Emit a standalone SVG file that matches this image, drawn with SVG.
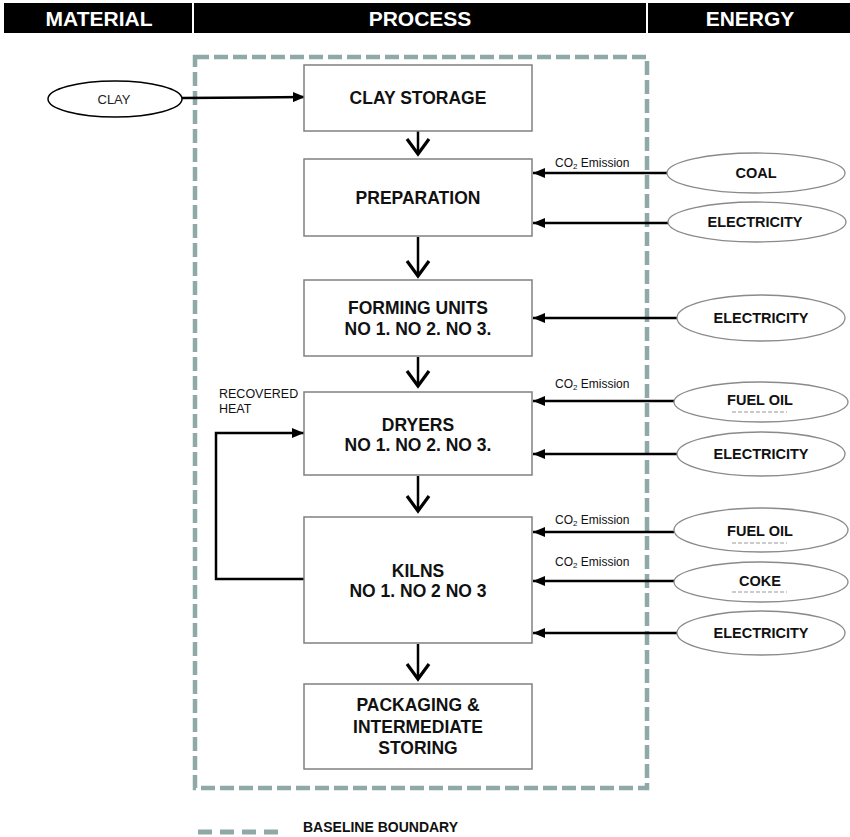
<svg xmlns="http://www.w3.org/2000/svg" width="850" height="837" viewBox="0 0 850 837">
<style>
.hdr{font-family:"Liberation Sans",Arial,sans-serif;font-weight:bold;font-size:21px;fill:#fff;text-anchor:middle}
.box{fill:#fff;stroke:#808080;stroke-width:1.5}
.bt{font-family:"Liberation Sans",Arial,sans-serif;font-weight:bold;font-size:17.5px;fill:#111;text-anchor:middle}
.en{fill:#fff;stroke:#8a8a8a;stroke-width:1.3}
.et{font-family:"Liberation Sans",Arial,sans-serif;font-weight:bold;font-size:14.5px;fill:#111;text-anchor:middle}
.co{font-family:"Liberation Sans",Arial,sans-serif;font-size:12px;fill:#111}
.rh{font-family:"Liberation Sans",Arial,sans-serif;font-size:12.5px;fill:#111}
.ln{fill:none;stroke:#000;stroke-width:2.5}
.va{fill:none;stroke:#000;stroke-width:3.2}
.bd{fill:none;stroke:#8fa8a8;stroke-width:4.5;stroke-dasharray:14 5}
.ul{stroke:#999;stroke-width:1;stroke-dasharray:4 2}
</style>
<defs>
<marker id="ah" viewBox="0 0 12 10" refX="12" refY="5" markerWidth="12" markerHeight="10" markerUnits="userSpaceOnUse" orient="auto">
<path d="M0,0 L12,5 L0,10 Z" fill="#000"/>
</marker>
</defs>
<rect width="850" height="837" fill="#fff"/>
<g id="header">
<rect x="4" y="3" width="846" height="30" fill="#000"/>
<line x1="193" y1="3" x2="193" y2="33" stroke="#fff" stroke-width="2"/>
<line x1="647" y1="3" x2="647" y2="33" stroke="#fff" stroke-width="2"/>
<text class="hdr" x="99" y="26">MATERIAL</text>
<text class="hdr" x="420" y="26">PROCESS</text>
<text class="hdr" x="750" y="26">ENERGY</text>
</g>
<g id="boundary">
<rect class="bd" x="195" y="57" width="452" height="731"/>
</g>
<g id="connectors">
<line class="ln" x1="182" y1="98" x2="305" y2="97" marker-end="url(#ah)"/>
<line class="ln" x1="418" y1="131" x2="418" y2="154"/>
<polyline class="va" points="407,139 418,154 429,139"/>
<line class="ln" x1="418" y1="237" x2="418" y2="276"/>
<polyline class="va" points="407,261 418,276 429,261"/>
<line class="ln" x1="418" y1="357" x2="418" y2="386"/>
<polyline class="va" points="407,371 418,386 429,371"/>
<line class="ln" x1="418" y1="476" x2="418" y2="511"/>
<polyline class="va" points="407,496 418,511 429,496"/>
<line class="ln" x1="418" y1="644" x2="418" y2="679"/>
<polyline class="va" points="407,664 418,679 429,664"/>
<line class="ln" x1="667" y1="173" x2="533" y2="173" marker-end="url(#ah)"/>
<line class="ln" x1="668" y1="223" x2="533" y2="223" marker-end="url(#ah)"/>
<line class="ln" x1="677" y1="318" x2="533" y2="318" marker-end="url(#ah)"/>
<line class="ln" x1="674" y1="401" x2="533" y2="401" marker-end="url(#ah)"/>
<line class="ln" x1="677" y1="454" x2="533" y2="454" marker-end="url(#ah)"/>
<line class="ln" x1="674" y1="532" x2="533" y2="532" marker-end="url(#ah)"/>
<line class="ln" x1="674" y1="581" x2="533" y2="581" marker-end="url(#ah)"/>
<line class="ln" x1="677" y1="633" x2="533" y2="633" marker-end="url(#ah)"/>
<polyline class="ln" points="304,579 216,579 216,433 304,433" marker-end="url(#ah)"/>
<text class="co" x="555" y="167">CO<tspan font-size="8" dy="2">2</tspan><tspan dy="-2"> Emission</tspan></text>
<text class="co" x="555" y="388">CO<tspan font-size="8" dy="2">2</tspan><tspan dy="-2"> Emission</tspan></text>
<text class="co" x="555" y="524">CO<tspan font-size="8" dy="2">2</tspan><tspan dy="-2"> Emission</tspan></text>
<text class="co" x="555" y="566">CO<tspan font-size="8" dy="2">2</tspan><tspan dy="-2"> Emission</tspan></text>
<text class="rh" x="219" y="398">RECOVERED</text>
<text class="rh" x="219" y="413">HEAT</text>
</g>
<g id="clay">
<ellipse cx="115" cy="99" rx="67" ry="18" fill="#fff" stroke="#000" stroke-width="1.5"/>
<text x="114" y="104" font-family="Liberation Sans,Arial,sans-serif" font-size="13" text-anchor="middle" fill="#222">CLAY</text>
</g>
<g id="clay-storage">
<rect class="box" x="304" y="65" width="228" height="66"/>
<text class="bt" x="418" y="104">CLAY STORAGE</text>
</g>
<g id="preparation">
<rect class="box" x="304" y="159" width="228" height="77"/>
<text class="bt" x="418" y="204">PREPARATION</text>
</g>
<g id="forming">
<rect class="box" x="304" y="280" width="228" height="76"/>
<text class="bt" x="418" y="314">FORMING UNITS</text>
<text class="bt" x="418" y="335">NO 1. NO 2. NO 3.</text>
</g>
<g id="dryers">
<rect class="box" x="304" y="392" width="228" height="83"/>
<text class="bt" x="418" y="431">DRYERS</text>
<text class="bt" x="418" y="451">NO 1. NO 2. NO 3.</text>
</g>
<g id="kilns">
<rect class="box" x="304" y="517" width="228" height="126"/>
<text class="bt" x="418" y="577">KILNS</text>
<text class="bt" x="418" y="597">NO 1. NO 2 NO 3</text>
</g>
<g id="packaging">
<rect class="box" x="304" y="684" width="228" height="85"/>
<text class="bt" x="418" y="711">PACKAGING &amp;</text>
<text class="bt" x="418" y="733">INTERMEDIATE</text>
<text class="bt" x="418" y="754">STORING</text>
</g>
<g id="coal">
<ellipse class="en" cx="756" cy="173" rx="89" ry="20"/>
<text class="et" x="756" y="178">COAL</text>
</g>
<g id="electricity-1">
<ellipse class="en" cx="757" cy="222" rx="89" ry="20"/>
<text class="et" x="755" y="227">ELECTRICITY</text>
</g>
<g id="electricity-2">
<ellipse class="en" cx="761" cy="318" rx="84" ry="23"/>
<text class="et" x="761" y="323">ELECTRICITY</text>
</g>
<g id="fuel-oil-1">
<ellipse class="en" cx="761" cy="402" rx="87" ry="20"/>
<text class="et" x="760" y="405">FUEL OIL</text>
<line class="ul" x1="732" y1="412" x2="787" y2="412"/>
</g>
<g id="electricity-3">
<ellipse class="en" cx="761" cy="454" rx="84" ry="22"/>
<text class="et" x="761" y="459">ELECTRICITY</text>
</g>
<g id="fuel-oil-2">
<ellipse class="en" cx="761" cy="530" rx="87" ry="22"/>
<text class="et" x="760" y="536">FUEL OIL</text>
<line class="ul" x1="732" y1="543" x2="787" y2="543"/>
</g>
<g id="coke">
<ellipse class="en" cx="761" cy="582" rx="87" ry="20"/>
<text class="et" x="760" y="586">COKE</text>
<line class="ul" x1="732" y1="592" x2="787" y2="592"/>
</g>
<g id="electricity-4">
<ellipse class="en" cx="761" cy="633" rx="84" ry="22"/>
<text class="et" x="761" y="638">ELECTRICITY</text>
</g>
<g id="legend">
<line x1="198" y1="832" x2="280" y2="832" stroke="#8fa8a8" stroke-width="5" stroke-dasharray="14 8"/>
<text x="303" y="832" font-family="Liberation Sans,Arial,sans-serif" font-weight="bold" font-size="14" fill="#111">BASELINE BOUNDARY</text>
</g>
</svg>
